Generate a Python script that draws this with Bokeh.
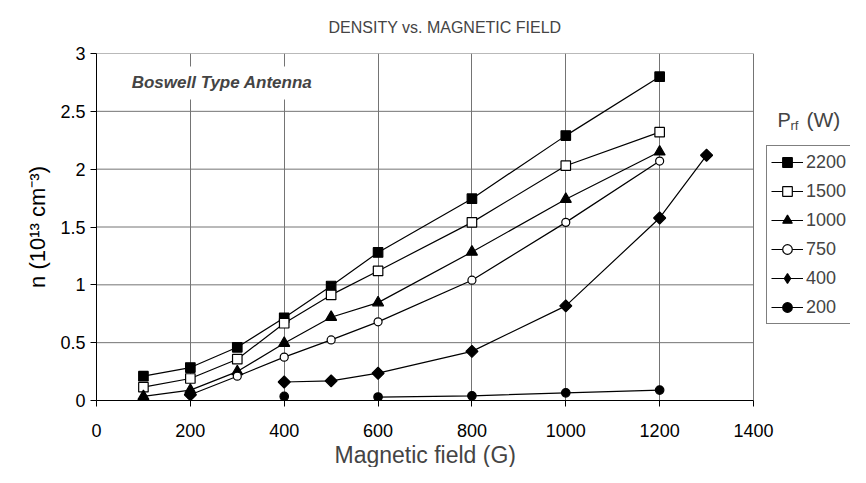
from bokeh.plotting import figure
from bokeh.models import Range1d, Legend, LegendItem, Label, Title, FixedTicker
from bokeh.embed import file_html
from bokeh.resources import INLINE

nan = float("nan")

# ---- data ----
x_ticks = [0, 200, 400, 600, 800, 1000, 1200, 1400]
y_ticks = [0, 0.5, 1, 1.5, 2, 2.5, 3]
y_tick_labels = ["0", "0.5", "1", "1.5", "2", "2.5", "3"]

x_2200 = [100, 200, 300, 400, 500, 600, 800, 1000, 1200]
n_2200 = [0.21, 0.285, 0.46, 0.715, 0.99, 1.28, 1.745, 2.29, 2.80]
x_1500 = [100, 200, 300, 400, 500, 600, 800, 1000, 1200]
n_1500 = [0.115, 0.19, 0.357, 0.668, 0.913, 1.12, 1.54, 2.03, 2.32]
x_1000 = [100, 200, 300, 400, 500, 600, 800, 1000, 1200]
n_1000 = [0.035, 0.09, 0.25, 0.495, 0.72, 0.846, 1.284, 1.74, 2.15]
x_750 = [200, 300, 400, 500, 600, 800, 1000, 1200]
n_750 = [0.05, 0.21, 0.375, 0.524, 0.68, 1.04, 1.54, 2.07]
x_400 = [200, 300, 400, 500, 600, 800, 1000, 1200, 1300]
n_400 = [0.05, nan, 0.16, 0.17, 0.236, 0.425, 0.818, 1.578, 2.12]
x_200 = [400, 500, 600, 800, 1000, 1200]
n_200 = [0.035, nan, 0.03, 0.04, 0.066, 0.09]

series_names = ["2200", "1500", "1000", "750", "400", "200"]

FONT = "Liberation Sans"
X_MAX = 1400
Y_MAX = 3

# plot area spans 96..753 px for 0..1400; the frame is extended to the right
# edge so that the legend and its heading can live inside it
FRAME_L, PLOT_R, FIG_W = 96, 753, 850
x_end = X_MAX * (FIG_W - FRAME_L) / (PLOT_R - FRAME_L)

p = figure(width=FIG_W, height=467, output_backend="svg", toolbar_location=None,
           x_range=Range1d(0, x_end), y_range=Range1d(0, Y_MAX),
           min_border_left=FRAME_L, min_border_right=0, min_border_top=53,
           min_border_bottom=66)
p.background_fill_color = "white"
p.border_fill_color = "white"
p.outline_line_color = None

p.title = Title(text="DENSITY vs. MAGNETIC FIELD", align="left", offset=232,
                vertical_align="top", text_font=FONT, text_font_size="16px",
                text_font_style="normal", standoff=32)

# axes
p.xaxis.ticker = FixedTicker(ticks=x_ticks)
p.xaxis.bounds = (0, X_MAX)
p.yaxis.ticker = FixedTicker(ticks=y_ticks)
p.yaxis.major_label_overrides = {t: l for t, l in zip(y_ticks, y_tick_labels)}
for ax in (p.xaxis, p.yaxis):
    ax.axis_line_color = "black"
    ax.major_tick_line_color = "black"
    ax.major_tick_out = 6
    ax.major_tick_in = 0
    ax.minor_tick_line_color = None
    ax.major_label_text_font = FONT
    ax.major_label_text_font_size = "18px"
    ax.major_label_text_color = "black"
    ax.axis_label_text_font = FONT
    ax.axis_label_text_font_size = "22px"
    ax.axis_label_text_font_style = "normal"
    ax.axis_label_text_color = "black"
p.yaxis.axis_label = "n (10\u00b9\u00b3 cm\u207b\u00b3)"
p.xaxis.major_label_standoff = 17
p.yaxis.major_label_standoff = 5
p.yaxis.axis_label_standoff = 7

# x-axis title centred under the 0..1400 plot area
p.add_layout(Title(text="Magnetic field (G)", align="left", offset=238,
                   text_font=FONT, text_font_size="23px", text_font_style="normal",
                   standoff=0), "below")

GRID = "#747474"
p.xgrid.grid_line_color = GRID
p.xgrid.grid_line_width = 1
p.ygrid.grid_line_color = None
# horizontal gridlines limited to the plot area (0..1400)
p.segment(x0=[0] * len(y_ticks), y0=y_ticks, x1=[X_MAX] * len(y_ticks), y1=y_ticks,
          line_color=GRID, line_width=1)

LW = 1.2
items = []

def add(xs, ys, name, marker, size, fill, angle=0.0, legend_marker=None, legend_size=None):
    ln = p.line(xs, ys, line_color="black", line_width=LW)
    sc = p.scatter(xs, ys, marker=marker, size=size, angle=angle, line_color="black",
                   fill_color=fill, line_width=1.2)
    if legend_marker is None:
        items.append(LegendItem(label=name, renderers=[ln, sc]))
    else:
        # same data, hidden in the plot; only used to draw the legend symbol
        sym = p.scatter(xs, ys, marker=legend_marker, size=legend_size, visible=False,
                        line_color="black", fill_color=fill, line_width=1.2)
        items.append(LegendItem(label=name, renderers=[ln, sym]))

add(x_2200, n_2200, series_names[0], "square", 9.5, "black")
add(x_1500, n_1500, series_names[1], "square", 9.5, "white")
add(x_1000, n_1000, series_names[2], "triangle", 11, "black")
add(x_750, n_750, series_names[3], "circle", 8, "white")
add(x_400, n_400, series_names[4], "square", 8.5, "black", angle=0.7854,
    legend_marker="diamond", legend_size=12)
add(x_200, n_200, series_names[5], "circle", 8.5, "black")

legend = Legend(items=items, location=(670, 76), orientation="vertical",
                label_text_font=FONT, label_text_font_size="18px",
                glyph_width=32, glyph_height=24, label_height=24,
                spacing=5, padding=4, label_standoff=3, margin=0,
                border_line_color="black", border_line_width=1,
                background_fill_color="white", background_fill_alpha=1,
                inactive_fill_alpha=0)
p.add_layout(legend)

# legend heading  P_rf (W)
HEAD_X, HEAD_Y = 1451, 2.426
p.add_layout(Label(x=HEAD_X, y=HEAD_Y, text="P", text_font=FONT, text_font_size="20px",
                   text_baseline="middle", text_align="left"))
p.add_layout(Label(x=HEAD_X, y=HEAD_Y, x_offset=13, y_offset=-6, text="rf", text_font=FONT,
                   text_font_size="13px", text_baseline="middle", text_align="left"))
p.add_layout(Label(x=HEAD_X, y=HEAD_Y, x_offset=29, text="(W)", text_font=FONT,
                   text_font_size="21px", text_baseline="middle", text_align="left"))

# annotation (white box hides the gridlines behind it)
p.add_layout(Label(x=75, y=2.745, x_offset=-7, text="Boswell Type Antenna", text_font=FONT,
                   text_font_size="17px", text_font_style="bold italic",
                   text_baseline="middle", text_align="left",
                   background_fill_color="white", padding=7))

open("out.html", "w").write(file_html(p, INLINE))
